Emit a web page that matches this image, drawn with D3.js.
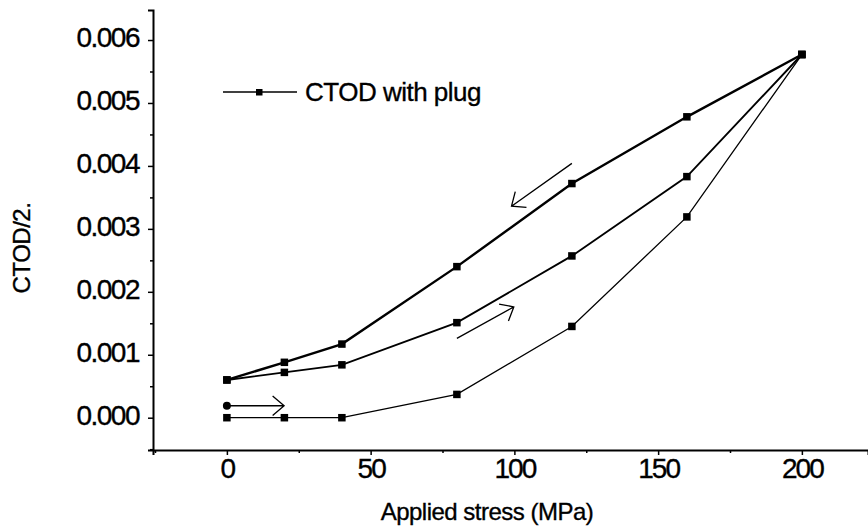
<!DOCTYPE html>
<html>
<head>
<meta charset="utf-8">
<script src="https://cdn.jsdelivr.net/npm/d3@7"></script>
<style>
  body { margin: 0; background: #fff; }
  text { font-family: "Liberation Sans", Arial, sans-serif; fill: #000; stroke: #000; stroke-width: 0.35px; }
</style>
</head>
<body>
<div id="chart-container"></div>
<script>
// Data.
const stress = [0, 20, 40, 80, 120, 160, 200];
const loading = [0, 0, 0, 0.00037, 0.00145, 0.00319, 0.00577];
const unloading = [0.0006, 0.00088, 0.00117, 0.0024, 0.00372, 0.00478, 0.00577];
const reloading = [0.0006, 0.00072, 0.00084, 0.00151, 0.00257, 0.00383, 0.00577];
const startPoint = [0, 0.00019];

const xTicks = [0, 50, 100, 150, 200];
const xMinorTicks = [-25, 25, 75, 125, 175];
const yTicks = [0, 0.001, 0.002, 0.003, 0.004, 0.005, 0.006];
const yMinorTicks = [-0.0005, 0.0005, 0.0015, 0.0025, 0.0035, 0.0045, 0.0055];

// Direction arrows: [x0, y0, x1, y1] in data units.
const arrows = [
    [120, 0.00404, 99, 0.00336],
    [80, 0.00126, 99.8, 0.00176],
    [0, 0.00019, 19.9, 0.00019]
];

const legendLabel = "CTOD with plug";
const xTitle = "Applied stress (MPa)";
const yTitle = "CTOD/2.";

const chartWidth = 868;
const chartHeight = 530;

const x = d3.scaleLinear()
    .domain([-25.7, 223])
    .range([153, 868]);

const y = d3.scaleLinear()
    .domain([-0.000513, 0.006477])
    .range([450, 10]);

const chart = d3.select("#chart-container").append("svg")
    .attr("width", chartWidth)
    .attr("height", chartHeight);

// x-axis.
const xAxis = chart.append("g")
    .attr("transform", `translate(0, ${y.range()[0]})`)
    .call(d3.axisBottom(x).tickValues(xTicks).tickSize(5).tickPadding(3).tickFormat(d3.format("d")));
chart.append("g")
    .attr("transform", `translate(0, ${y.range()[0]})`)
    .call(d3.axisBottom(x).tickValues(xMinorTicks).tickSize(3).tickFormat(""))
    .select(".domain").remove();

// y-axis.
const yAxis = chart.append("g")
    .attr("transform", `translate(${x.range()[0]}, 0)`)
    .call(d3.axisLeft(y).tickValues(yTicks).tickSize(5).tickPadding(9).tickFormat(d3.format(".3f")));
chart.append("g")
    .attr("transform", `translate(${x.range()[0]}, 0)`)
    .call(d3.axisLeft(y).tickValues(yMinorTicks).tickSize(3).tickFormat(""))
    .select(".domain").remove();

chart.selectAll(".domain")
    .attr("stroke", "#000")
    .attr("stroke-width", 2);
chart.selectAll(".tick line")
    .attr("stroke", "#000")
    .attr("stroke-width", 1.5);

xAxis.selectAll(".tick text")
    .attr("font-size", 28)
    .attr("letter-spacing", "-2px");
yAxis.selectAll(".tick text")
    .attr("font-size", 28)
    .attr("letter-spacing", "-1.5px")
    .attr("dy", "0.24em");

// Axis titles.
chart.append("text")
    .attr("x", 487)
    .attr("y", 520)
    .attr("text-anchor", "middle")
    .attr("font-size", 24)
    .attr("letter-spacing", "-0.5px")
    .text(xTitle);

chart.append("text")
    .attr("transform", "translate(30, 248) rotate(-90)")
    .attr("text-anchor", "middle")
    .attr("font-size", 24)
    .attr("letter-spacing", "-0.5px")
    .text(yTitle);

// Curves.
const series = [
    {values: loading, width: 1.3},
    {values: reloading, width: 1.9},
    {values: unloading, width: 2.4}
];

const line = d3.line()
    .x(d => x(d[0]))
    .y(d => y(d[1]));

series.forEach(s => {
    const pts = stress.map((v, i) => [v, s.values[i]]);
    chart.append("path")
        .datum(pts)
        .attr("fill", "none")
        .attr("stroke", "#000")
        .attr("stroke-width", s.width)
        .attr("d", line);
    chart.selectAll(null)
        .data(pts)
        .enter()
        .append("rect")
        .attr("x", d => x(d[0]) - 3.75)
        .attr("y", d => y(d[1]) - 3.75)
        .attr("width", 7.5)
        .attr("height", 7.5)
        .attr("fill", "#000");
});

chart.append("circle")
    .attr("cx", x(startPoint[0]))
    .attr("cy", y(startPoint[1]))
    .attr("r", 4)
    .attr("fill", "#000");

// Arrows with open heads.
arrows.forEach(a => {
    const x0 = x(a[0]), y0 = y(a[1]), x1 = x(a[2]), y1 = y(a[3]);
    const ang = Math.atan2(y0 - y1, x0 - x1);
    const headLen = 15, spread = 0.7;
    const h1 = [x1 + headLen * Math.cos(ang + spread), y1 + headLen * Math.sin(ang + spread)];
    const h2 = [x1 + headLen * Math.cos(ang - spread), y1 + headLen * Math.sin(ang - spread)];
    chart.append("path")
        .attr("d", `M${x0},${y0}L${x1},${y1}M${h1[0]},${h1[1]}L${x1},${y1}L${h2[0]},${h2[1]}`)
        .attr("fill", "none")
        .attr("stroke", "#000")
        .attr("stroke-width", 1.3);
});

// Legend.
const legend = chart.append("g").attr("transform", "translate(223, 92)");
legend.append("line")
    .attr("x1", 0).attr("x2", 74)
    .attr("stroke", "#000")
    .attr("stroke-width", 1.4);
legend.append("rect")
    .attr("x", 33).attr("y", -3)
    .attr("width", 6.5).attr("height", 6.5)
    .attr("fill", "#000");
legend.append("text")
    .attr("x", 82)
    .attr("y", 9)
    .attr("font-size", 26)
    .attr("letter-spacing", "-0.5px")
    .text(legendLabel);
</script>
</body>
</html>
